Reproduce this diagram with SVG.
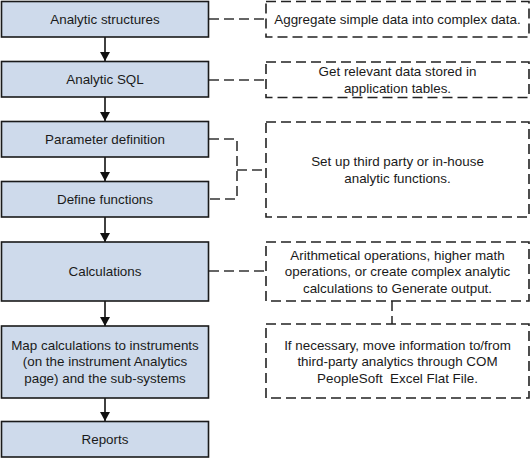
<svg xmlns="http://www.w3.org/2000/svg" width="531" height="459" viewBox="0 0 531 459">
<defs>
<style>
.box{fill:#cedaeb;stroke:#1a1a1a;stroke-width:1.6}
.note{fill:#ffffff;stroke:#222;stroke-width:1.6;stroke-dasharray:10,5}
.t{font-family:"Liberation Sans",Arial,sans-serif;font-size:13.4px;fill:#1a1a1a;text-anchor:middle}
.dash{fill:none;stroke:#333;stroke-width:1.6;stroke-dasharray:10,5}
.arr{fill:none;stroke:#111;stroke-width:1.6}
</style>
<marker id="ah" markerWidth="9" markerHeight="10" refX="9" refY="5" orient="auto" markerUnits="userSpaceOnUse">
<path d="M0,0 L9,5 L0,10 Z" fill="#111"/>
</marker>
</defs>
<rect width="531" height="459" fill="#ffffff"/>
<g id="connectors">
<line class="arr" x1="105" y1="37" x2="105" y2="61" marker-end="url(#ah)"/>
<line class="arr" x1="105" y1="97" x2="105" y2="121" marker-end="url(#ah)"/>
<line class="arr" x1="105" y1="157" x2="105" y2="181" marker-end="url(#ah)"/>
<line class="arr" x1="105" y1="217" x2="105" y2="242" marker-end="url(#ah)"/>
<line class="arr" x1="105" y1="301" x2="105" y2="326" marker-end="url(#ah)"/>
<line class="arr" x1="105" y1="398" x2="105" y2="421" marker-end="url(#ah)"/>
<line class="dash" x1="209" y1="19" x2="266" y2="19"/>
<line class="dash" x1="209" y1="80" x2="266" y2="80"/>
<path class="dash" d="M209,139 H237 V199 H209"/>
<line class="dash" x1="237" y1="170" x2="266" y2="170"/>
<line class="dash" x1="209" y1="271" x2="266" y2="271"/>
<line class="dash" x1="392" y1="301" x2="392" y2="324"/>
</g>
<g id="n1"><rect class="box" x="1.5" y="1.5" width="207" height="35.5"/><text class="t" x="105" y="23.8">Analytic structures</text></g>
<g id="n2"><rect class="box" x="1.5" y="61.5" width="207" height="35.5"/><text class="t" x="105" y="83.8">Analytic SQL</text></g>
<g id="n3"><rect class="box" x="1.5" y="121.5" width="207" height="35.5"/><text class="t" x="105" y="143.8">Parameter definition</text></g>
<g id="n4"><rect class="box" x="1.5" y="181.5" width="207" height="35.5"/><text class="t" x="105" y="203.8">Define functions</text></g>
<g id="n5"><rect class="box" x="1.5" y="242" width="207" height="59"/><text class="t" x="105" y="276">Calculations</text></g>
<g id="n6"><rect class="box" x="1.5" y="326" width="207" height="72"/>
<text class="t" x="105" y="349.5">Map calculations to instruments</text>
<text class="t" x="105" y="366">(on the instrument Analytics</text>
<text class="t" x="105" y="382.5">page) and the sub-systems</text></g>
<g id="n7"><rect class="box" x="1.5" y="421.5" width="207" height="35.5"/><text class="t" x="105" y="443.8">Reports</text></g>
<g id="r1"><rect class="note" x="266" y="1.5" width="263" height="35.5"/><text class="t" x="397.5" y="23.8">Aggregate simple data into complex data.</text></g>
<g id="r2"><rect class="note" x="266" y="62" width="263" height="35.5"/>
<text class="t" x="397.5" y="76">Get relevant data stored in</text>
<text class="t" x="397.5" y="92.5">application tables.</text></g>
<g id="r3"><rect class="note" x="266" y="122" width="263" height="95"/>
<text class="t" x="397.5" y="165.5">Set up third party or in-house</text>
<text class="t" x="397.5" y="182.5">analytic functions.</text></g>
<g id="r4"><rect class="note" x="266" y="242" width="263" height="59"/>
<text class="t" x="397.5" y="259.5">Arithmetical operations, higher math</text>
<text class="t" x="397.5" y="276">operations, or create complex analytic</text>
<text class="t" x="397.5" y="292.5">calculations to Generate output.</text></g>
<g id="r5"><rect class="note" x="266" y="324" width="263" height="74"/>
<text class="t" x="397.5" y="349.5">If necessary, move information to/from</text>
<text class="t" x="397.5" y="366">third-party analytics through COM</text>
<text class="t" x="397.5" y="382.5" xml:space="preserve">PeopleSoft  Excel Flat File.</text></g>
</svg>
